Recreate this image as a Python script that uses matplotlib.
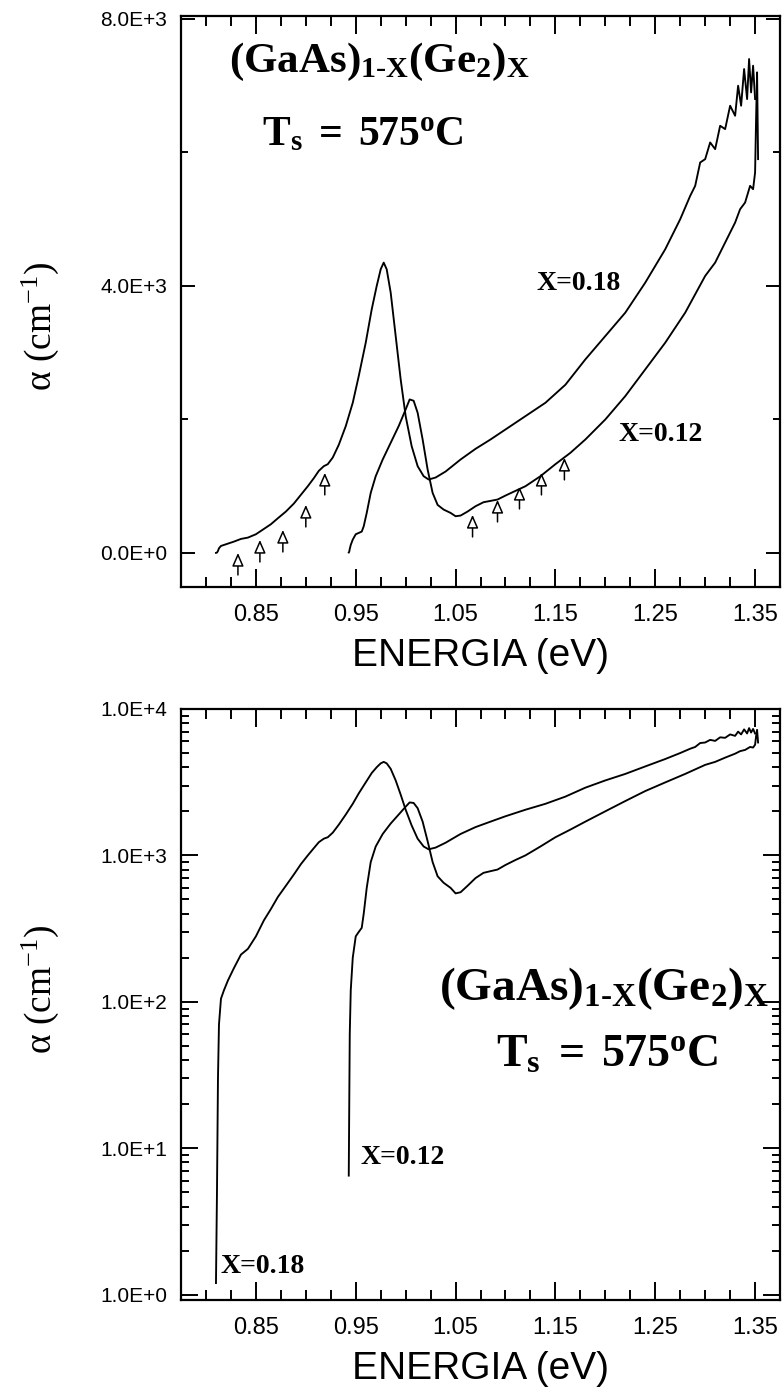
import matplotlib
matplotlib.use('Agg')
import matplotlib.pyplot as plt
from matplotlib.ticker import FuncFormatter, LogLocator, NullFormatter

plt.rcParams['mathtext.fontset'] = 'custom'
plt.rcParams['mathtext.rm'] = 'Liberation Serif'
plt.rcParams['mathtext.it'] = 'Liberation Serif:italic'
plt.rcParams['mathtext.bf'] = 'Liberation Serif:bold'
plt.rcParams['font.family'] = 'Liberation Sans'

# absorption spectra, energy in eV, alpha in cm^-1
e_018 = [0.810, 0.811, 0.812, 0.813, 0.815, 0.818, 0.822, 0.828, 0.835, 0.842,
         0.850, 0.858, 0.865, 0.872, 0.880, 0.888, 0.895, 0.902, 0.908, 0.913,
         0.918, 0.922, 0.927, 0.933, 0.940, 0.947, 0.953, 0.960, 0.966, 0.971,
         0.975, 0.978, 0.981, 0.985, 0.990, 0.995, 1.000, 1.006, 1.012, 1.018,
         1.023, 1.030, 1.040, 1.055, 1.070, 1.085, 1.100, 1.120, 1.140, 1.160,
         1.180, 1.200, 1.220, 1.240, 1.260, 1.275, 1.285, 1.290, 1.295, 1.300,
         1.305, 1.310, 1.315, 1.320, 1.325, 1.330, 1.333, 1.336, 1.339, 1.342,
         1.344, 1.346, 1.348, 1.350]
a_018 = [1.2, 5, 30, 70, 105, 120, 140, 170, 210, 230,
         280, 360, 430, 520, 620, 740, 870, 1000, 1120, 1230,
         1300, 1330, 1430, 1620, 1900, 2250, 2650, 3150, 3650, 4000,
         4250, 4350, 4250, 3900, 3250, 2600, 2050, 1600, 1300, 1150,
         1100, 1130, 1220, 1400, 1560, 1700, 1850, 2050, 2250, 2520,
         2900, 3250, 3600, 4050, 4550, 5000, 5350, 5500, 5850, 5900,
         6150, 6050, 6400, 6350, 6700, 6550, 7000, 6700, 7250, 6800,
         7400, 6900, 7300, 6800]

e_012 = [0.943, 0.9435, 0.944, 0.945, 0.947, 0.950, 0.953, 0.956, 0.958, 0.961,
         0.965, 0.970, 0.977, 0.985, 0.993, 1.000, 1.004, 1.008, 1.012, 1.017,
         1.022, 1.027, 1.032, 1.038, 1.045, 1.050, 1.055, 1.062, 1.070, 1.078,
         1.085, 1.092, 1.100, 1.110, 1.120, 1.135, 1.150, 1.165, 1.180, 1.200,
         1.220, 1.240, 1.260, 1.280, 1.300, 1.310, 1.320, 1.330, 1.335, 1.340,
         1.345, 1.348, 1.350, 1.351, 1.352, 1.353]
a_012 = [6.5, 20, 60, 120, 200, 280, 300, 320, 400, 600,
         900, 1150, 1400, 1650, 1900, 2150, 2300, 2280, 2100, 1700,
         1250, 900, 720, 650, 600, 550, 560, 620, 700, 760,
         780, 800, 860, 930, 1000, 1150, 1330, 1500, 1700, 2000,
         2350, 2750, 3150, 3600, 4150, 4350, 4650, 4950, 5150, 5250,
         5500, 5450, 5700, 6500, 7200, 5900]

# open arrows marking the structure, tip positions
arrow_e_018 = [0.832, 0.854, 0.877, 0.900, 0.919]
arrow_a_018 = [0, 195, 345, 720, 1200]
arrow_e_012 = [1.067, 1.092, 1.114, 1.136, 1.159]
arrow_a_012 = [570, 795, 990, 1200, 1425]

x_ticks = [0.85, 0.95, 1.05, 1.15, 1.25, 1.35]
x_minor = [0.80 + 0.025 * i for i in range(23)]

title_1 = r'$\mathbf{(GaAs)_{1\text{-}X}(Ge_{2})_{X}}$'
title_2 = r'$\mathbf{T_{s}\ =\ 575^{o}C}$'


def sci_fmt(v, pos):
    m, e = ('%.1E' % v).split('E')
    return '%sE%+d' % (m, int(e))


def style_axes(ax):
    ax.set_xlim(0.775, 1.375)
    ax.set_xticks(x_ticks, ['%.2f' % t for t in x_ticks])
    ax.set_xticks(x_minor, minor=True)
    for s in ax.spines.values():
        s.set_linewidth(1.6)
    ax.tick_params(which='both', direction='in', top=True, right=True, width=1.4)
    ax.tick_params(axis='x', which='major', length=13, labelsize=17, pad=12)
    ax.tick_params(axis='x', which='minor', length=7)
    ax.tick_params(axis='y', which='major', labelsize=15, pad=10)
    ax.set_xlabel('ENERGIA (eV)', fontsize=28, labelpad=9)
    ax.set_ylabel(r'α (cm$^{-1}$)', fontsize=27, family='Liberation Serif')


fig = plt.figure(figsize=(7.82, 13.89), dpi=100)
ax1 = fig.add_axes([0.2315, 0.5774, 0.766, 0.4111])
ax2 = fig.add_axes([0.2315, 0.0641, 0.766, 0.4255])

# top panel: linear scale
ax1.plot(e_018, a_018, color='black', lw=1.35)
ax1.plot(e_012, a_012, color='black', lw=1.35)
for e, a in zip(arrow_e_018 + arrow_e_012, arrow_a_018 + arrow_a_012):
    ax1.annotate('', xy=(e, a), xytext=(e, a - 330),
                 arrowprops=dict(arrowstyle='-|>,head_width=0.35,head_length=0.8',
                                 color='black', fc='white', lw=1.1,
                                 shrinkA=0, shrinkB=0))
style_axes(ax1)
ax1.set_ylim(-510, 8045)
ax1.set_yticks([0, 4000, 8000])
ax1.set_yticks([2000, 6000], minor=True)
ax1.yaxis.set_major_formatter(FuncFormatter(sci_fmt))
ax1.tick_params(axis='y', which='major', length=10)
ax1.tick_params(axis='y', which='minor', length=5)
ax1.yaxis.set_label_coords(-0.2, 0.457)

ax1.text(0.823, 7200, title_1, fontsize=31)
ax1.text(0.856, 6100, title_2, fontsize=30)
ax1.text(1.173, 4030, 'X=0.18', fontsize=20, fontweight='bold', family='Liberation Serif',
         ha='center', va='center')
ax1.text(1.255, 1770, 'X=0.12', fontsize=20, fontweight='bold', family='Liberation Serif',
         ha='center', va='center')

# bottom panel: log scale
ax2.semilogy(e_018, a_018, color='black', lw=1.35)
ax2.semilogy(e_012, a_012, color='black', lw=1.35)
style_axes(ax2)
ax2.set_ylim(0.92, 1.0e4)
ax2.yaxis.set_major_locator(LogLocator(base=10, numticks=10))
ax2.yaxis.set_minor_locator(LogLocator(base=10, subs=range(2, 10), numticks=10))
ax2.yaxis.set_major_formatter(FuncFormatter(sci_fmt))
ax2.yaxis.set_minor_formatter(NullFormatter())
ax2.tick_params(axis='y', which='major', length=12)
ax2.tick_params(axis='y', which='minor', length=6)
ax2.yaxis.set_label_coords(-0.2, 0.525)

ax2.text(1.033, 102, title_1, fontsize=34)
ax2.text(1.090, 36, title_2, fontsize=33)
ax2.text(0.9545, 7.8, 'X=0.12', fontsize=20, fontweight='bold', family='Liberation Serif')
ax2.text(0.815, 1.4, 'X=0.18', fontsize=20, fontweight='bold', family='Liberation Serif')

fig.savefig('out.png', dpi=100)
